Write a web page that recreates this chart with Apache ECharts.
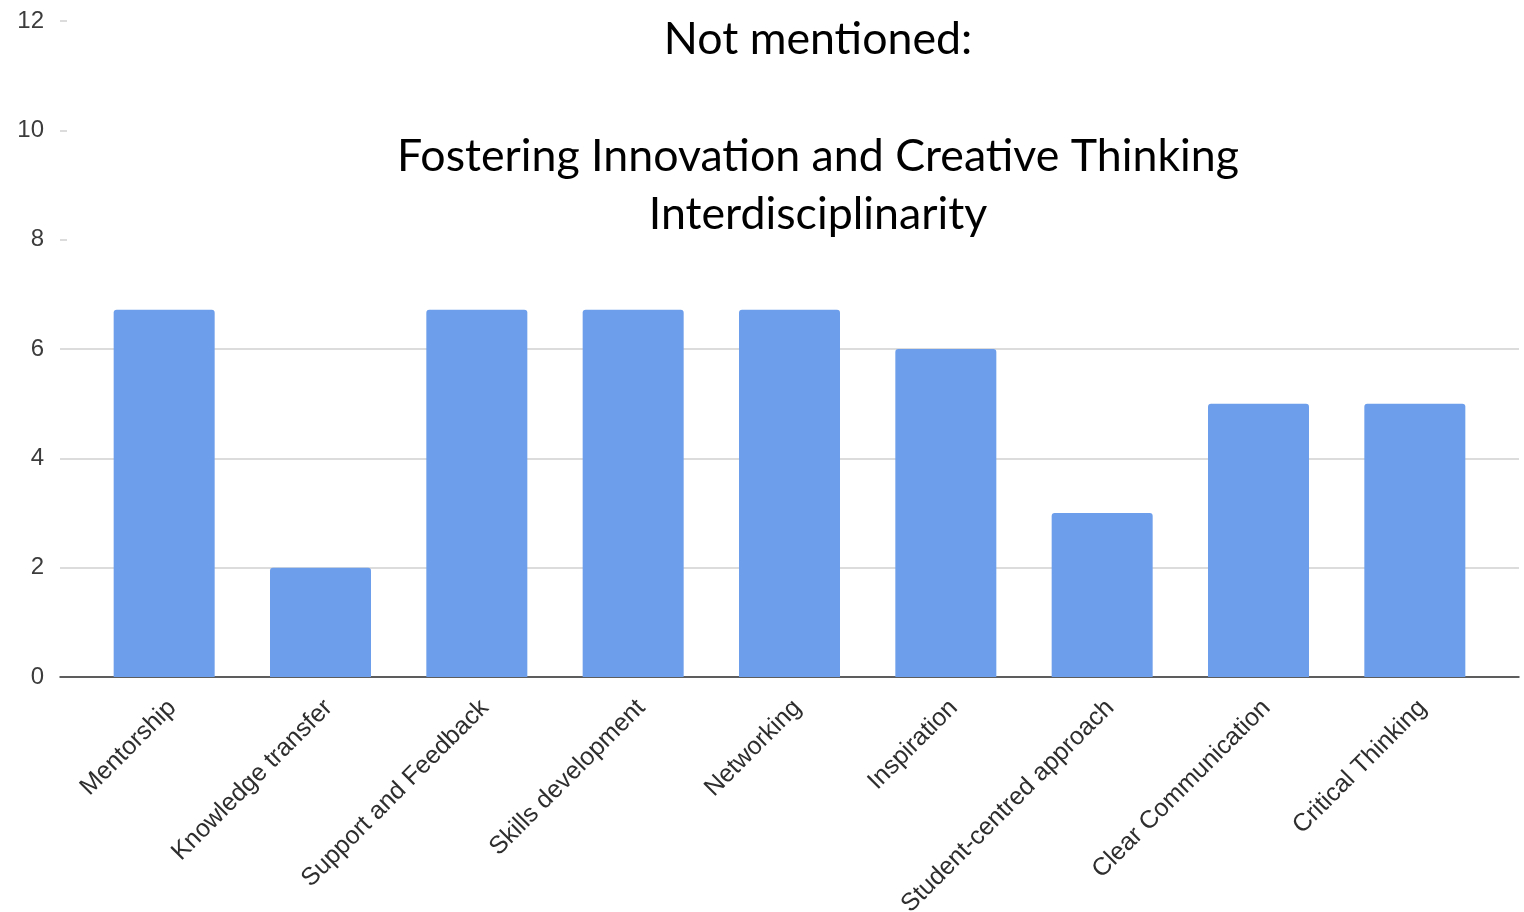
<!DOCTYPE html>
<html>
<head>
<meta charset="utf-8">
<script src="https://cdn.jsdelivr.net/npm/echarts@6/dist/echarts.min.js"></script>
<style>
  html, body { margin: 0; padding: 0; background: #fff; }
  #chart { width: 1524px; height: 912px; }
</style>
</head>
<body>
<div id="chart"></div>
<script>
var categories = ['Mentorship', 'Knowledge transfer', 'Support and Feedback', 'Skills development',
    'Networking', 'Inspiration', 'Student-centred approach', 'Clear Communication', 'Critical Thinking'];
var counts = [6.72, 2, 6.72, 6.72, 6.72, 6, 3, 5, 5];
var yTicks = { min: 0, max: 12, step: 2 };
var titleLines = ['Not mentioned:', 'Fostering Innovation and Creative Thinking', 'Interdisciplinarity'];

var chart = echarts.init(document.getElementById('chart'));

var titleFont = { fontFamily: 'Lato', fontSize: 44.7, fill: '#000' };
var labelShiftX = 8;
var labelShiftY = 7;

chart.setOption({
    animation: false,
    grid: [
        { left: 60, right: 5, top: 21, bottom: 235, outerBoundsMode: 'none' },
        { left: 86, right: 31, top: 21, bottom: 235, outerBoundsMode: 'none' },
        // same band layout, nudged right/down, only carries the category labels
        { left: 86 + labelShiftX, right: 31 - labelShiftX, top: 21, bottom: 235 - labelShiftY, outerBoundsMode: 'none' }
    ],
    xAxis: [
        {
            gridIndex: 0, type: 'value', min: 0, max: 1,
            axisLine: { show: true, lineStyle: { color: '#333', width: 1.5 } },
            axisTick: { show: false }, axisLabel: { show: false }, splitLine: { show: false }
        },
        {
            gridIndex: 1, type: 'category', data: categories,
            axisLine: { show: false }, axisTick: { show: false }, axisLabel: { show: false }
        },
        {
            gridIndex: 2, type: 'category', data: categories,
            axisLine: { show: false }, axisTick: { show: false },
            axisLabel: {
                rotate: 45, margin: 20, interval: 0,
                fontFamily: 'Liberation Sans', fontSize: 25, color: '#2e2e2e'
            }
        }
    ],
    yAxis: [
        {
            gridIndex: 0, type: 'value', min: yTicks.min, max: yTicks.max, interval: yTicks.step,
            axisLine: { show: false }, axisTick: { show: false },
            axisLabel: { margin: 16, fontFamily: 'Liberation Sans', fontSize: 24, color: '#3c3c3c' },
            splitLine: { lineStyle: { color: '#d0d0d0', width: 1.5 } }
        },
        {
            gridIndex: 1, type: 'value', min: yTicks.min, max: yTicks.max, interval: yTicks.step,
            show: false, splitLine: { show: false }
        },
        {
            gridIndex: 2, type: 'value', min: yTicks.min, max: yTicks.max, interval: yTicks.step,
            show: false, splitLine: { show: false }
        }
    ],
    series: [{
        type: 'bar',
        xAxisIndex: 1, yAxisIndex: 1,
        data: counts,
        barWidth: 101,
        itemStyle: { color: '#6d9eeb', borderRadius: [3, 3, 0, 0] }
    }],
    graphic: [
        // white text box sitting over the upper part of the plot
        { type: 'rect', z: 100, shape: { x: 67, y: 0, width: 1457, height: 292 }, style: { fill: '#fff' } },
        { type: 'text', z: 101, x: 818, y: 40,
          style: Object.assign({ text: titleLines[0], textAlign: 'center', textVerticalAlign: 'middle' }, titleFont) },
        { type: 'text', z: 101, x: 818, y: 157,
          style: Object.assign({ text: titleLines[1], textAlign: 'center', textVerticalAlign: 'middle' }, titleFont) },
        { type: 'text', z: 101, x: 818, y: 215,
          style: Object.assign({ text: titleLines[2], textAlign: 'center', textVerticalAlign: 'middle' }, titleFont) }
    ]
});
</script>
</body>
</html>
